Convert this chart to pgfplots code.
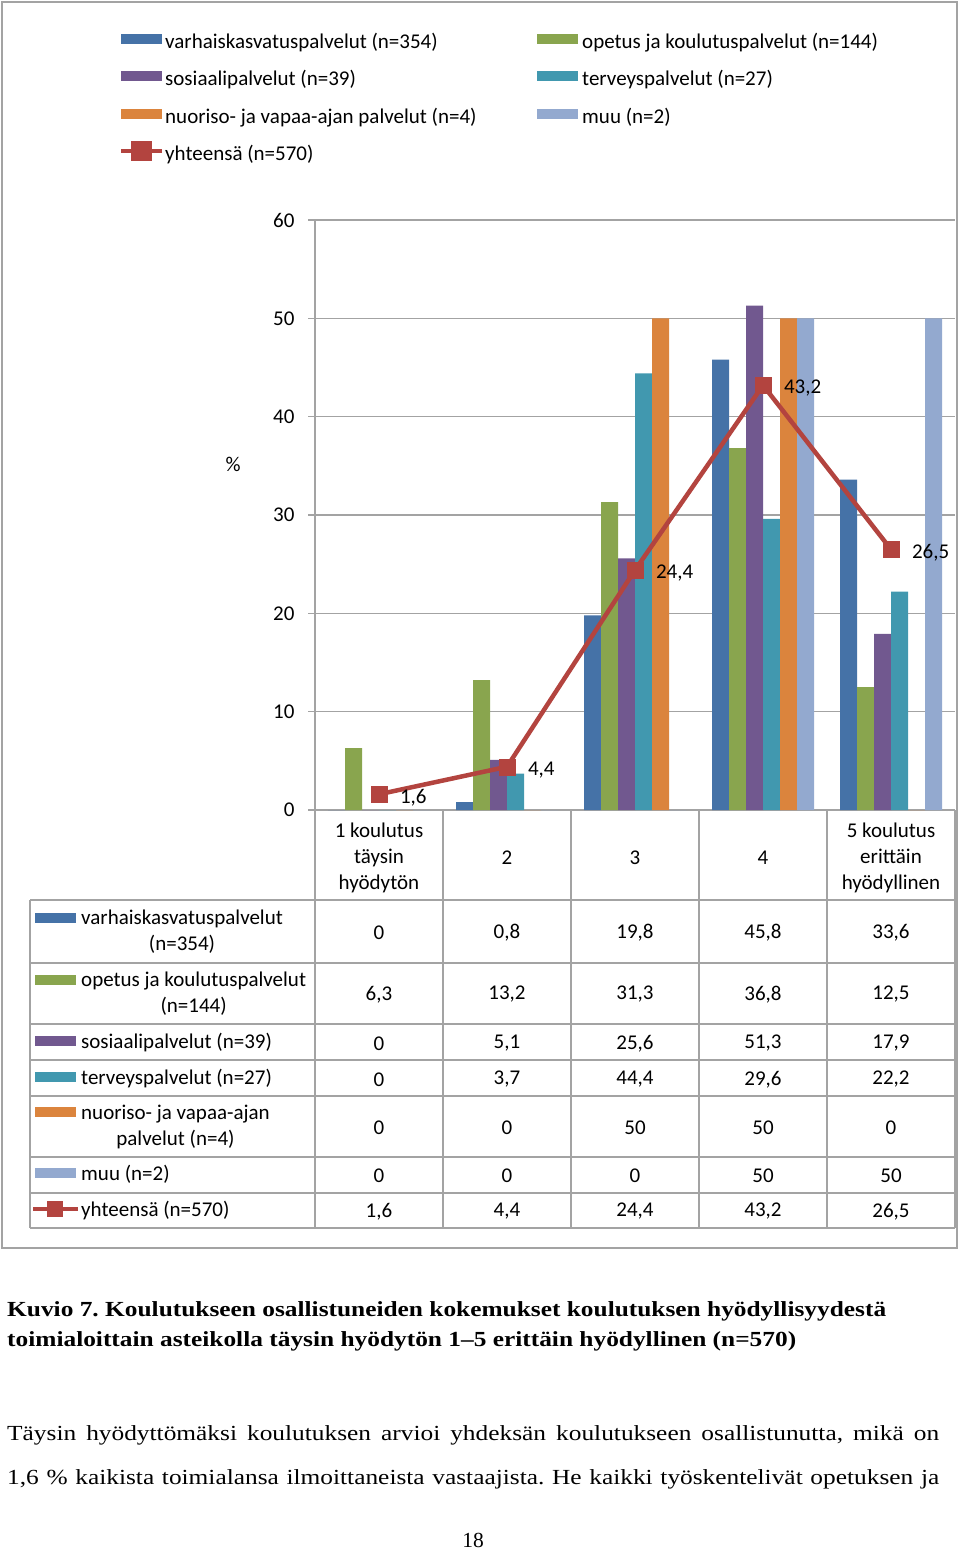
\documentclass[border=0pt]{standalone}
\usepackage{fontspec}
\setmainfont{Carlito}
\newfontfamily\timesfont{Liberation Serif}
\usepackage{pgfplots}
\usepackage{pgfplotstable}
\pgfplotsset{compat=1.18}

\definecolor{cBlue}{HTML}{4572A7}
\definecolor{cGreen}{HTML}{89A54E}
\definecolor{cPurple}{HTML}{71588F}
\definecolor{cTeal}{HTML}{4198AF}
\definecolor{cOrange}{HTML}{DB843D}
\definecolor{cLight}{HTML}{93A9CF}
\definecolor{cRed}{HTML}{B3443F}
\definecolor{cGrid}{HTML}{A3A3A3}

\newcommand\cf{\fontsize{21}{26}\selectfont}
\newcommand\tf{\timesfont\fontsize{21.5}{26}\selectfont}

% prosenttiosuudet, asteikko 1-5
\pgfplotstableread{
x  varh  opet  sos   terv  nuor  muu  yht
1  0     6.3   0     0     0     0    1.6
2  0.8   13.2  5.1   3.7   0     0    4.4
3  19.8  31.3  25.6  44.4  50    0    24.4
4  45.8  36.8  51.3  29.6  50    50   43.2
5  33.6  12.5  17.9  22.2  0     50   26.5
}\datatable

\pgfplotsset{
  pylvas/.style={ybar, bar width=17pt, bar shift=#1, draw=none,
    legend image code/.code={\fill[##1] (0pt,0pt) rectangle (41pt,10pt);}},
  viiva/.style={
    legend image code/.code={
      \path[draw=none, fill=none] (0pt,0pt) rectangle (41pt,10pt);
      \draw[cRed, line width=4.5pt, overlay] (0pt,5pt) -- (41pt,5pt);
      \fill[cRed, overlay] (12.5pt,-3pt) rectangle (28.5pt,13pt);}},
}

\begin{document}
\frenchspacing
\begin{tikzpicture}
\begin{axis}[
  at={(315pt,-810pt)}, anchor=south west,
  scale only axis, width=640pt, height=590pt,
  xmin=0.5, xmax=5.5, ymin=0, ymax=60,
  ytick={0,10,...,60},
  xtick={1,...,5},
  xticklabels={{1 koulutus\\täysin\\hyödytön},2,3,4,{5 koulutus\\erittäin\\hyödyllinen}},
  axis x line*=bottom, axis y line*=left,
  axis line style={cGrid, line width=1.5pt},
  ymajorgrids, major grid style={cGrid, line width=1.3pt},
  ytick style={cGrid, line width=1.3pt}, ytick align=outside, major tick length=7pt,
  xtick style={draw=none},
  tick label style={font=\cf},
  yticklabel style={xshift=-10pt},
  xticklabel style={align=center, anchor=center, yshift=-47.5pt},
  /pgf/number format/.cd, use comma, 1000 sep={}, assume math mode=true, /pgfplots/.cd,
  ylabel={\%}, ylabel style={font=\cf, rotate=-90, anchor=center,
    at={(axis description cs:-0.128,0.585)}},
  legend columns=2, legend cell align=left,
  legend style={draw=none, fill=none, anchor=north west, inner sep=0pt,
    at={(axis description cs:-0.3031,1.3161)}, row sep=18pt,
    nodes={inner sep=0pt, text height=14pt, text depth=5pt, font=\cf},
    /tikz/every odd column/.append style={column sep=0pt}},
]
\addplot[pylvas=-42.5pt, fill=cBlue]   table[x=x,y=varh]{\datatable};
\addlegendentry{\makebox[375pt][l]{\hspace{3pt}varhaiskasvatuspalvelut (n=354)}}
\addplot[pylvas=-25.5pt, fill=cGreen]  table[x=x,y=opet]{\datatable};
\addlegendentry{\hspace{4pt}opetus ja koulutuspalvelut (n=144)}
\addplot[pylvas=-8.5pt,  fill=cPurple] table[x=x,y=sos]{\datatable};
\addlegendentry{\hspace{3pt}sosiaalipalvelut (n=39)}
\addplot[pylvas=8.5pt,   fill=cTeal]   table[x=x,y=terv]{\datatable};
\addlegendentry{\hspace{4pt}terveyspalvelut (n=27)}
\addplot[pylvas=25.5pt,  fill=cOrange] table[x=x,y=nuor]{\datatable};
\addlegendentry{\hspace{3pt}nuoriso- ja vapaa-ajan palvelut (n=4)}
\addplot[pylvas=42.5pt,  fill=cLight]  table[x=x,y=muu]{\datatable};
\addlegendentry{\hspace{4pt}muu (n=2)}
\addplot[viiva, cRed, line width=4.5pt, mark=square*, mark size=8pt,
  mark options={solid, line width=0.1pt},
  nodes near coords,
  every node near coord/.append style={anchor=west, xshift=21pt, yshift=-3pt,
    inner sep=0pt, text=black, font=\cf},
] table[x=x,y=yht]{\datatable};
\addlegendentry{\hspace{3pt}yhteensä (n=570)}
\end{axis}

\begin{scope}[x=1pt, y=-1pt]
  % kehys
  \draw[cGrid, line width=2pt] (2,2) rectangle (957,1248);
  % taulukon viivat
  \foreach \yy in {900,963,1024,1060,1096,1157,1193,1228}
    \draw[cGrid, line width=1.5pt] (30,\yy) -- (955,\yy);
  \draw[cGrid, line width=1.5pt] (30,900) -- (30,1228);
  \foreach \xx in {315,443,571,699,827,955}
    \draw[cGrid, line width=1.5pt] (\xx,810) -- (\xx,1228);
  % rivien selitteet
  \foreach \yy/\cc in {918/cBlue, 980/cGreen, 1041/cPurple, 1077/cTeal, 1112/cOrange, 1173/cLight}
    \fill[\cc] (35,\yy-5) rectangle (76,\yy+5);
  \draw[cRed, line width=4.5pt] (33,1209) -- (78,1209);
  \fill[cRed] (47,1201) rectangle (63,1217);
  \begin{scope}[every node/.style={font=\cf, inner sep=0pt, anchor=west, align=center}]
    \node at (81,931.5)  {varhaiskasvatuspalvelut\\(n=354)};
    \node at (81,993.5)  {opetus ja koulutuspalvelut\\(n=144)};
    \node at (81,1042.5) {sosiaalipalvelut (n=39)};
    \node at (81,1078.5) {terveyspalvelut (n=27)};
    \node at (81,1126.5) {nuoriso- ja vapaa-ajan\\palvelut (n=4)};
    \node at (81,1174.5) {muu (n=2)};
    \node at (81,1210.5) {yhteensä (n=570)};
  \end{scope}
  % taulukon arvot
  \foreach \col/\yy in {varh/933, opet/994.5, sos/1043.5, terv/1079.5, nuor/1127.5, muu/1175.5, yht/1211.5} {
    \foreach \r in {0,...,4} {
      \pgfplotstablegetelem{\r}{\col}\of\datatable
      \pgfmathsetmacro\xx{379+128*\r}
      \node[font=\cf, inner sep=0pt] at (\xx,\yy)
        {\pgfmathprintnumber[use comma, 1000 sep={}, assume math mode=true]{\pgfplotsretval}};
    }
  }
  % kuvateksti ja leipateksti
  \begin{scope}[every node/.style={inner sep=0pt, anchor=base west}]
    \node[font=\tf\bfseries] at (7,1316)
      {\scalebox{1.18}[1]{Kuvio 7. Koulutukseen osallistuneiden kokemukset koulutuksen hyödyllisyydestä}};
    \node[font=\tf\bfseries] at (7,1346)
      {\scalebox{1.18}[1]{toimialoittain asteikolla täysin hyödytön 1–5 erittäin hyödyllinen (n=570)}};
    \node[font=\tf] at (7,1440)
      {\scalebox{1.18}[1]{\makebox[789.8pt][s]{Täysin hyödyttömäksi koulutuksen arvioi yhdeksän koulutukseen osallistunutta, mikä on}}};
    \node[font=\tf] at (7,1484)
      {\scalebox{1.18}[1]{\makebox[789.8pt][s]{1,6 \% kaikista toimialansa ilmoittaneista vastaajista. He kaikki työskentelivät opetuksen ja}}};
    \node[font=\tf, anchor=base] at (473,1547) {18};
  \end{scope}
  \pgfresetboundingbox
  \useasboundingbox (0,0) rectangle (960,1552);
\end{scope}
\end{tikzpicture}
\end{document}
